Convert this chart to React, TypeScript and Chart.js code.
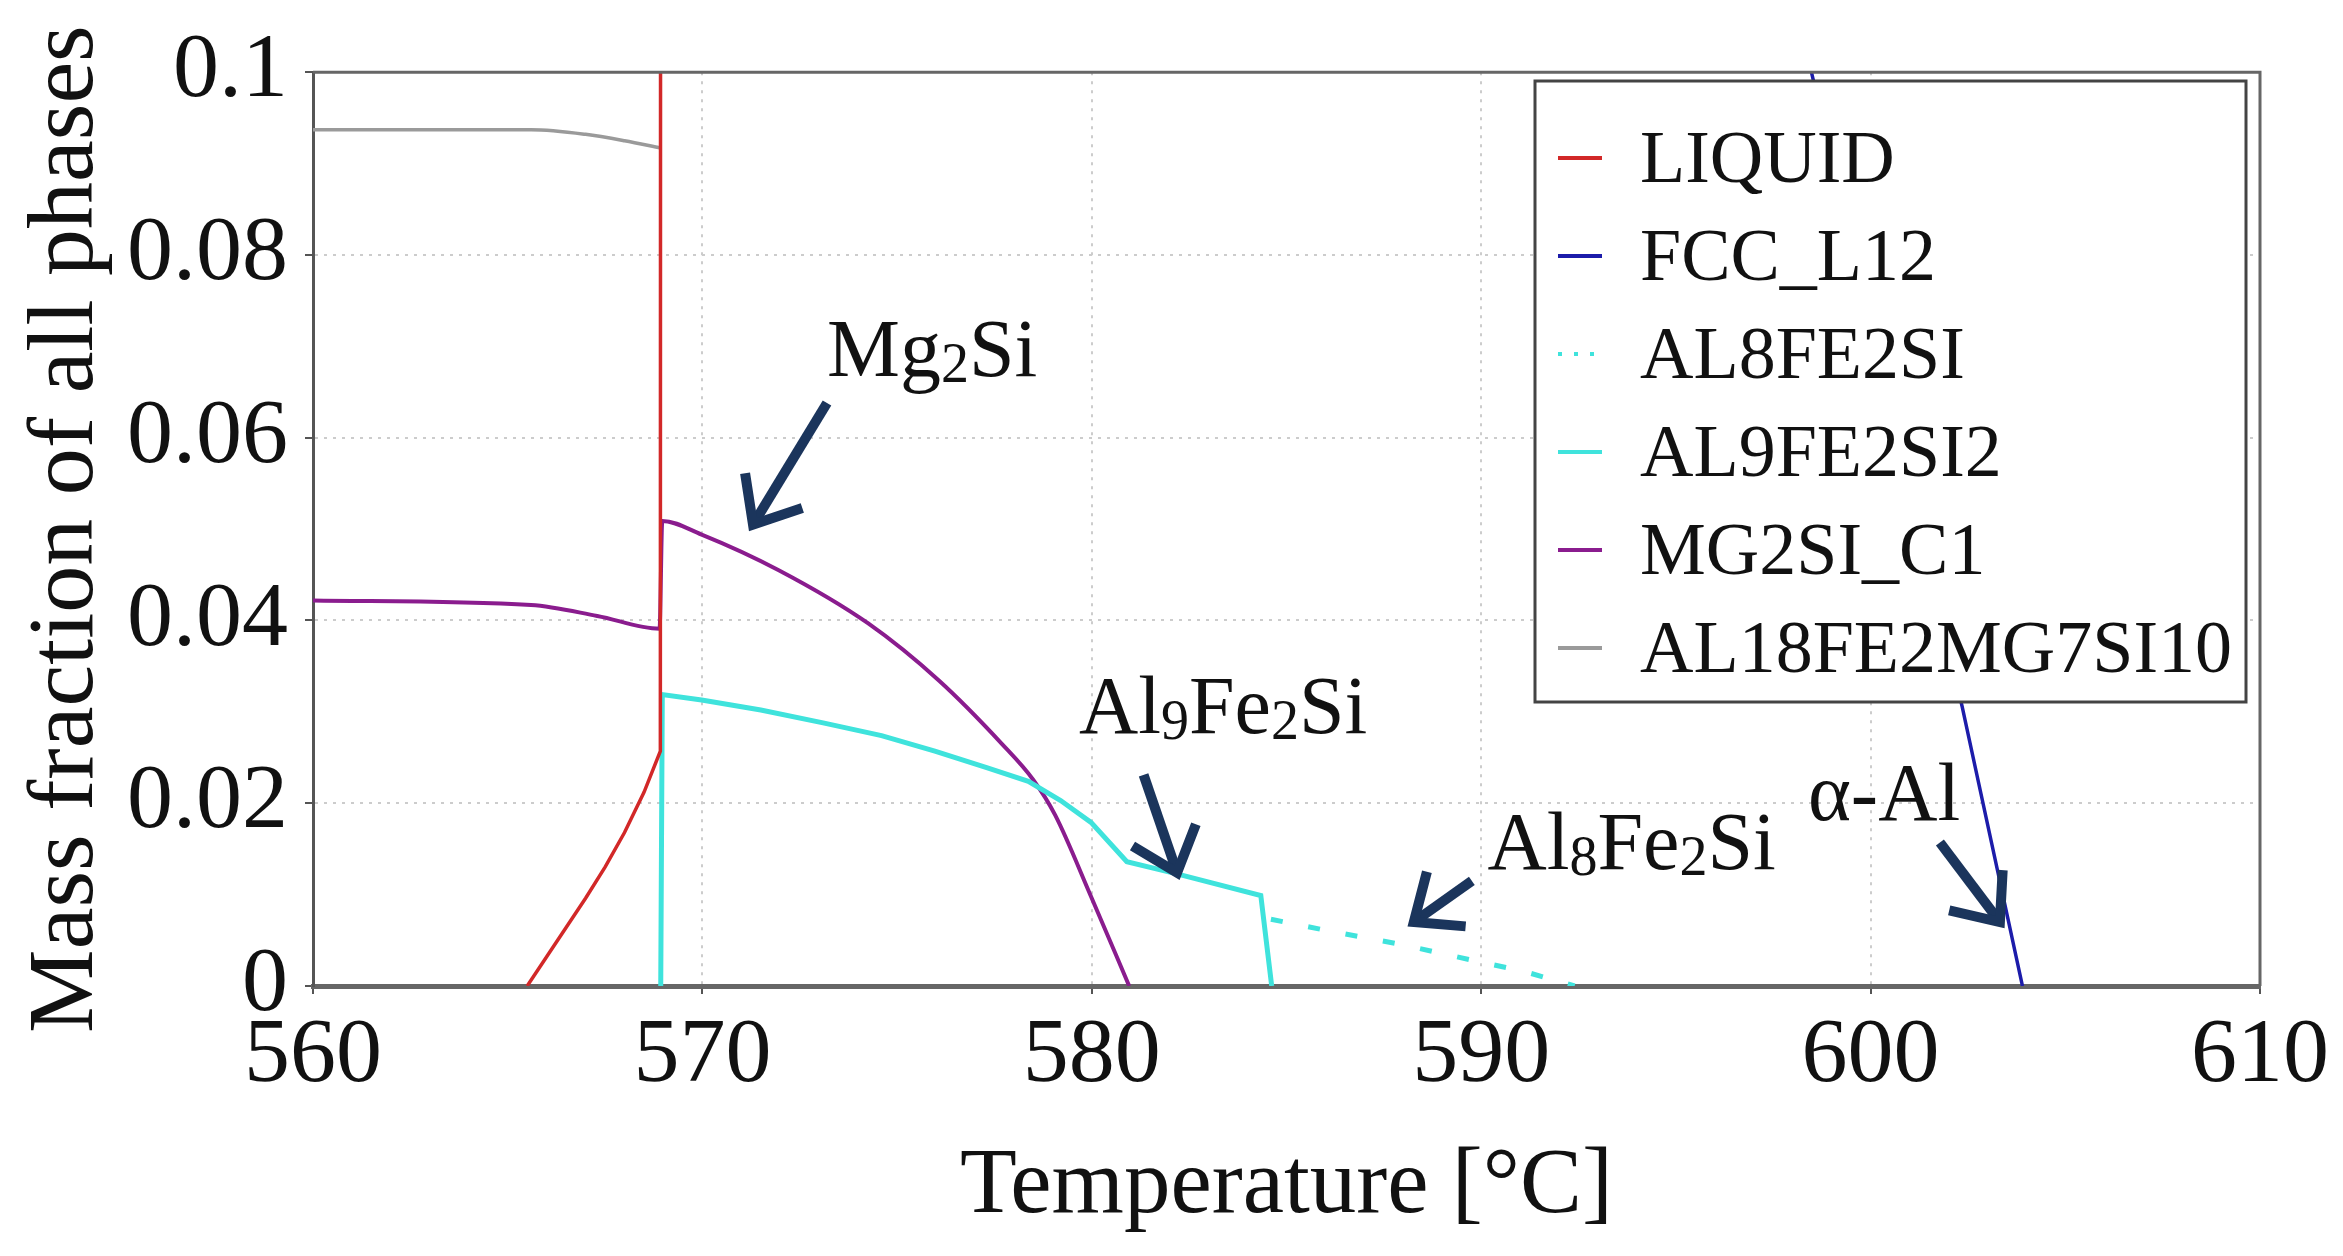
import React, { useEffect, useRef } from "react";
import { Chart, registerables } from "chart.js";

Chart.register(...registerables);

const FONT = "'Liberation Serif', 'Times New Roman', Times, serif";

// ---- axes ----
const xTicks = [560, 570, 580, 590, 600, 610];
const yTicks = [0, 0.02, 0.04, 0.06, 0.08, 0.1];
const yTickLabels = ["0", "0.02", "0.04", "0.06", "0.08", "0.1"];
const xTitle = "Temperature [°C]";
const yTitle = "Mass fraction of all phases";

// ---- series (temperature °C, mass fraction) ----
const liquidT = [565.5, 566.0, 566.5, 567.0, 567.5, 568.0, 568.5, 568.92, 568.95];
const liquidV = [0, 0.0032, 0.0064, 0.0096, 0.013, 0.0168, 0.0212, 0.0257, 0.5];

const fccT = [598.2, 598.48, 602.35, 603.9];
const fccV = [0.105, 0.1, 0.0306, 0];

const al8T = [584.6, 586.0, 588.0, 590.0, 591.1, 592.4];
const al8V = [0.0073, 0.0061, 0.0045, 0.0026, 0.0016, 0];

const al9T = [568.93, 568.97, 569.98, 571.5, 573.1, 574.6, 575.97, 577.3, 578.37, 579.2, 579.98, 580.9, 582.16, 584.34, 584.62];
const al9V = [0, 0.0319, 0.0313, 0.0302, 0.0288, 0.0274, 0.0257, 0.0239, 0.0224, 0.0203, 0.0179, 0.0136, 0.0123, 0.0099, 0];

const mg2siT = [560, 565.6, 567.3, 568.9, 568.97, 569.98, 571.96, 574.25, 576.08, 577.69, 578.49, 579.06, 579.98, 580.96];
const mg2siV = [0.0422, 0.0417, 0.0405, 0.0391, 0.0509, 0.0494, 0.0455, 0.0397, 0.0334, 0.0265, 0.0226, 0.0187, 0.0098, 0];

const al18T = [560, 565.6, 567.0, 568.0, 568.93];
const al18V = [0.0937, 0.0937, 0.0932, 0.0925, 0.0917];

const seriesNames = ["LIQUID", "FCC_L12", "AL8FE2SI", "AL9FE2SI2", "MG2SI_C1", "AL18FE2MG7SI10"];
const seriesT = [liquidT, fccT, al8T, al9T, mg2siT, al18T];
const seriesV = [liquidV, fccV, al8V, al9V, mg2siV, al18V];
const seriesColors = ["#d22828", "#1c1caa", "#3fe3dc", "#3fe3dc", "#8a1c8e", "#9a9a9a"];
const seriesWidths = [3.5, 3.5, 5, 5, 4, 3.5];
const seriesDash: number[][] = [[], [], [12, 26], [], [], []];
const seriesSmooth = [false, false, false, false, true, true];

// ---- annotations (anchored in data space) ----
const annotations = [
  { parts: [["Mg", false], ["2", true], ["Si", false]], at: [573.2, 0.0667], tail: [573.2, 0.0638], head: [571.3, 0.0505] },
  { parts: [["Al", false], ["9", true], ["Fe", false], ["2", true], ["Si", false]], at: [579.67, 0.0277], tail: [581.33, 0.0231], head: [582.19, 0.0124] },
  { parts: [["Al", false], ["8", true], ["Fe", false], ["2", true], ["Si", false]], at: [590.16, 0.0128], tail: [589.76, 0.0115], head: [588.27, 0.007] },
  { parts: [["α-Al", false]], at: [598.39, 0.0182], tail: [601.78, 0.0157], head: [603.32, 0.007] },
];

const W = 2343;
const H = 1256;

const decorPlugin = {
  id: "decor",
  afterDraw(chart: any) {
    const ctx = chart.ctx as CanvasRenderingContext2D;
    const { left, right, top, bottom } = chart.chartArea;
    const xs = chart.scales.x;
    const ys = chart.scales.y;

    // frame (top + right)
    ctx.save();
    ctx.strokeStyle = "#666";
    ctx.lineWidth = 3;
    ctx.beginPath();
    ctx.moveTo(left, top);
    ctx.lineTo(right, top);
    ctx.lineTo(right, bottom);
    ctx.stroke();
    ctx.restore();

    // annotations
    ctx.save();
    const mainSize = 82;
    const subSize = 56;
    annotations.forEach((a) => {
      let x = xs.getPixelForValue(a.at[0]);
      const y = ys.getPixelForValue(a.at[1]);
      ctx.fillStyle = "#111";
      ctx.textBaseline = "alphabetic";
      ctx.textAlign = "left";
      (a.parts as any[]).forEach(([t, sub]) => {
        ctx.font = `${sub ? subSize : mainSize}px ${FONT}`;
        ctx.fillText(t, x, sub ? y + 6 : y);
        x += ctx.measureText(t).width;
      });
      const x1 = xs.getPixelForValue(a.tail[0]);
      const y1 = ys.getPixelForValue(a.tail[1]);
      const x2 = xs.getPixelForValue(a.head[0]);
      const y2 = ys.getPixelForValue(a.head[1]);
      const ang = Math.atan2(y2 - y1, x2 - x1);
      ctx.strokeStyle = "#1b355c";
      ctx.lineWidth = 10;
      ctx.lineCap = "butt";
      ctx.lineJoin = "miter";
      ctx.beginPath();
      ctx.moveTo(x1, y1);
      ctx.lineTo(x2, y2);
      ctx.stroke();
      const L = 52;
      const spread = 0.7;
      ctx.beginPath();
      ctx.moveTo(x2 + L * Math.cos(ang + Math.PI - spread), y2 + L * Math.sin(ang + Math.PI - spread));
      ctx.lineTo(x2, y2);
      ctx.lineTo(x2 + L * Math.cos(ang + Math.PI + spread), y2 + L * Math.sin(ang + Math.PI + spread));
      ctx.stroke();
    });
    ctx.restore();

    // legend box
    const bx = 1535, by = 81, bw = 711, bh = 621;
    ctx.save();
    ctx.fillStyle = "#fff";
    ctx.fillRect(bx, by, bw, bh);
    ctx.strokeStyle = "#444";
    ctx.lineWidth = 3;
    ctx.strokeRect(bx, by, bw, bh);
    chart.data.datasets.forEach((ds: any, i: number) => {
      const ry = by + 77 + i * 98;
      ctx.strokeStyle = ds.borderColor;
      ctx.lineWidth = 4;
      ctx.setLineDash(ds.borderDash && ds.borderDash.length ? [4, 12] : []);
      ctx.beginPath();
      ctx.moveTo(bx + 23, ry);
      ctx.lineTo(bx + 67, ry);
      ctx.stroke();
      ctx.setLineDash([]);
      ctx.fillStyle = "#111";
      ctx.font = `74px ${FONT}`;
      ctx.textBaseline = "alphabetic";
      ctx.textAlign = "left";
      ctx.fillText(ds.label, bx + 105, ry + 24);
    });
    ctx.restore();
  },
};

export default function App() {
  const ref = useRef<HTMLCanvasElement | null>(null);

  useEffect(() => {
    if (!ref.current) return;
    const datasets = seriesNames.map((name, i) => ({
      label: name,
      data: seriesT[i].map((t, j) => ({ x: t, y: seriesV[i][j] })),
      showLine: true,
      borderColor: seriesColors[i],
      backgroundColor: seriesColors[i],
      borderWidth: seriesWidths[i],
      borderDash: seriesDash[i],
      pointRadius: 0,
      pointHoverRadius: 0,
      fill: false,
      tension: 0,
      cubicInterpolationMode: seriesSmooth[i] ? "monotone" : "default",
    }));

    const chart = new Chart(ref.current, {
      type: "scatter",
      data: { datasets },
      plugins: [decorPlugin],
      options: {
        animation: false,
        responsive: false,
        devicePixelRatio: 1,
        events: [],
        layout: { padding: { top: 67, right: 83, left: 0, bottom: 0 } },
        plugins: {
          legend: { display: false },
          tooltip: { enabled: false },
        },
        scales: {
          x: {
            type: "linear",
            min: 560,
            max: 610,
            afterBuildTicks: (s: any) => {
              s.ticks = xTicks.map((v) => ({ value: v }));
            },
            afterFit: (s: any) => {
              s.height = 270;
            },
            ticks: {
              font: { family: FONT, size: 92 },
              color: "#111",
              padding: 8,
              maxRotation: 0,
              callback: (v: any) => String(v),
            },
            grid: {
              color: "#cccccc",
              lineWidth: 2,
              tickLength: 8,
              tickColor: "#555",
              tickWidth: 2,
              tickBorderDash: [],
            },
            border: { color: "#666", width: 5, dash: [3, 6] },
            title: {
              display: true,
              text: xTitle,
              font: { family: FONT, size: 93 },
              color: "#111",
              padding: { top: 0, bottom: 13 },
            },
          },
          y: {
            type: "linear",
            min: 0,
            max: 0.1,
            afterBuildTicks: (s: any) => {
              s.ticks = yTicks.map((v) => ({ value: v }));
            },
            afterFit: (s: any) => {
              s.width = 313;
            },
            ticks: {
              font: { family: FONT, size: 92 },
              color: "#111",
              padding: 17,
              callback: (v: any) => {
                const k = yTicks.findIndex((t) => Math.abs(t - Number(v)) < 1e-9);
                return k >= 0 ? yTickLabels[k] : "";
              },
            },
            grid: {
              color: "#cccccc",
              lineWidth: 2,
              tickLength: 8,
              tickColor: "#555",
              tickWidth: 2,
              tickBorderDash: [],
            },
            border: { color: "#555", width: 3, dash: [3, 6] },
            title: {
              display: true,
              text: yTitle,
              font: { family: FONT, size: 94 },
              color: "#111",
              padding: { top: 11, bottom: 0 },
            },
          },
        },
      } as any,
    });
    return () => chart.destroy();
  }, []);

  return (
    <div style={{ position: "fixed", left: 0, top: 0, width: W, height: H, background: "#fff" }}>
      <canvas ref={ref} width={W} height={H} style={{ width: W, height: H, display: "block" }} />
    </div>
  );
}
